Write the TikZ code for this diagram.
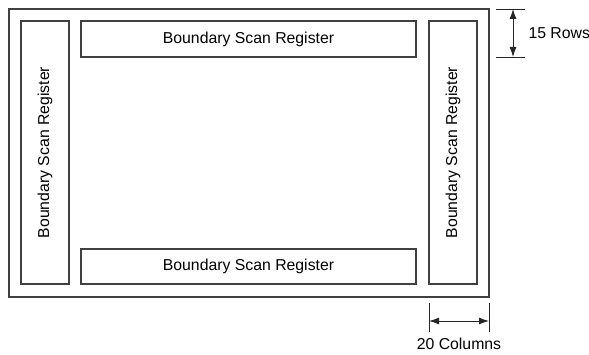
\documentclass[tikz,border=0pt]{standalone}
\usepackage{fontspec}
\setmainfont{Liberation Sans}
\usetikzlibrary{arrows.meta}
\begin{document}
\begin{tikzpicture}[x=1pt,y=-1pt,
  frame/.style={draw=black!75,line width=1.2pt},
  reg/.style={draw=black!75,line width=1.2pt,font=\fontsize{15.8}{18}\selectfont},
  dimline/.style={draw=black!85,line width=0.9pt},
  dimarrow/.style={draw=black!85,line width=0.9pt,{Latex[length=10pt,width=7pt]}-{Latex[length=10pt,width=7pt]}},
  lbl/.style={font=\fontsize{15.8}{18}\selectfont,text=black}]
\useasboundingbox (0,0) rectangle (589,355);
% chip outline
\draw[frame] (9,9) rectangle (489,297);
% boundary scan registers
\node[reg,minimum width=335pt,minimum height=36pt] (top) at (248.5,39) {Boundary Scan Register};
\node[reg,minimum width=335pt,minimum height=35pt] (bot) at (248.5,266.5) {Boundary Scan Register};
\node[reg,rotate=90,minimum width=263pt,minimum height=48pt] (left) at (45,152.5) {Boundary Scan Register};
\node[reg,rotate=90,minimum width=263pt,minimum height=48pt] (right) at (453,152.5) {Boundary Scan Register};
% row dimension
\coordinate (r1a) at (496,9);  \coordinate (r1b) at (525,9);
\coordinate (r2a) at (496,57); \coordinate (r2b) at (525,57);
\draw[dimline] (r1a) -- (r1b);
\draw[dimline] (r2a) -- (r2b);
\coordinate (ra) at (513,9); \coordinate (rb) at (513,57);
\draw[dimarrow] (ra) -- (rb);
\node[lbl,anchor=west] (rows) at (525,33) {15 Rows};
% column dimension
\coordinate (c1a) at (429,303); \coordinate (c1b) at (429,332);
\coordinate (c2a) at (489,303); \coordinate (c2b) at (489,332);
\draw[dimline] (c1a) -- (c1b);
\draw[dimline] (c2a) -- (c2b);
\coordinate (ca) at (429,321); \coordinate (cb) at (489,321);
\draw[dimarrow] (ca) -- (cb);
\node[lbl] (cols) at (459,344) {20 Columns};
\end{tikzpicture}
\end{document}
